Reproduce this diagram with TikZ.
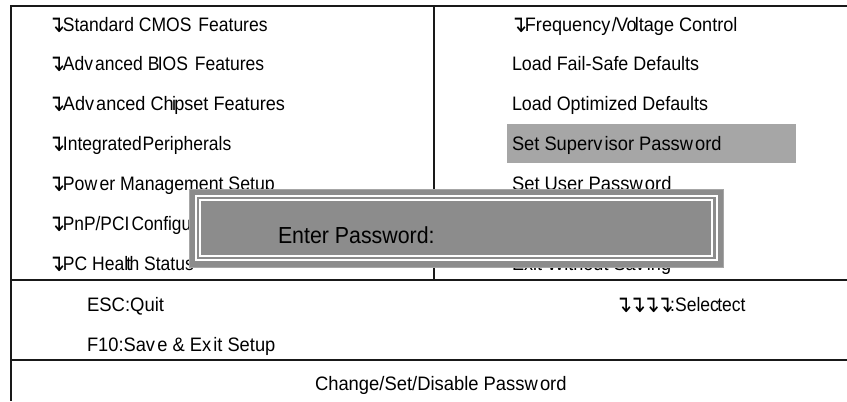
\documentclass[tikz,border=0pt]{standalone}
\usepackage{fontspec}
\setmainfont{Liberation Sans}
\newfontfamily\symf{DejaVu Sans}
\newcommand{\ar}{\makebox[8.2pt][l]{\raisebox{-0.9pt}{\symf\fontsize{17pt}{17pt}\selectfont\hspace{-3pt}\scalebox{0.9}[1.05]{↴}}}}
\newcommand{\gp}{\kern1.6pt}
\newcommand{\tg}{\kern-1.3pt}
\newcommand{\fs}[1]{\addfontfeature{FakeStretch=#1}}
\tikzset{
  x=0.75pt,y=-0.75pt,
  lbl/.style={anchor=base west,inner sep=0pt,outer sep=0pt,text=black,font=\fontsize{14.6pt}{16pt}\selectfont},
  rule/.style={line width=1.1pt,black!90},
}
\definecolor{barg}{HTML}{A6A6A6}
\definecolor{dlg}{HTML}{8C8C8C}
\begin{document}
\begin{tikzpicture}
\useasboundingbox (0,0) rectangle (847,401);
\fill[white] (0,0) rectangle (847,401);
% frame
\coordinate (tl) at (11,6); \coordinate (tr) at (847,6); \coordinate (bl) at (11,401);
\coordinate (d1) at (434,6); \coordinate (d2) at (434,280);
\coordinate (a1) at (11,280); \coordinate (a2) at (847,280);
\coordinate (b1) at (11,360); \coordinate (b2) at (847,360);
\draw[rule] (tr) -- (tl) -- (bl);
\draw[rule] (d1) -- (d2);
\draw[rule] (a1) -- (a2);
\draw[rule] (b1) -- (b2);
\fill[barg] (507,124) rectangle (796,163);
% left
\node[lbl] (l1) at (52,31) {\fs{0.90}\ar Standard CMOS\gp{} Features};
\node[lbl] (l2) at (52,70) {\fs{0.90}\ar Adv\gp anced B\tg IOS\gp{} Features};
\node[lbl] (l3) at (52,110) {\fs{0.93}\ar Adv\gp anced Ch\tg i\tg pset Features};
\node[lbl] (l4) at (52,150) {\fs{0.90}\ar Integrated\kern-3pt{} Peripherals};
\node[lbl] (l5) at (52,190) {\fs{0.91}\ar Pow\gp er Management Setup};
\node[lbl] (l6) at (52,230) {\fs{0.89}\ar PnP/PCI\kern-2pt{} Configurations};
\node[lbl] (l7) at (52,270) {\fs{0.90}\ar PC Heal\tg t\tg h Status};
% right
\node[lbl] (r1) at (514,31) {\fs{0.93}\ar Frequency\kern1pt/\kern-.5pt V\tg o\tg ltage Control};
\node[lbl] (r2) at (512,70) {\fs{0.92}Load Fail-Safe Defaults};
\node[lbl] (r3) at (512,110) {\fs{0.92}Load Optimized Defaults};
\node[lbl] (r4) at (512,150) {\fs{0.94}Set Superv\gp isor Passw\gp ord};
\node[lbl] (r5) at (512,190) {\fs{0.945}Set User Passw\gp ord};
\node[lbl] (r7) at (512,270) {\fs{0.93}Exit Without Sav\gp ing};
% bottom
\node[lbl] (e1) at (87,311) {\fs{0.95}ESC:Quit};
\node[lbl] (e2) at (87,351) {\fs{0.94}F10:Sav\gp e \& Ex\gp it Setup};
\node[lbl] (e3) at (619,311) {\fs{0.90}\ar\kern2.2pt\ar\kern2.2pt\ar\kern2.2pt\ar\kern-1pt:Selec\kern-1.2pt tect};
\node[lbl] (e4) at (315,390) {\fs{0.945}Change/Set/Disable Passw\gp ord};
% dialog
\fill[dlg] (189,189) rectangle (723,267);
\draw[barg,line width=0.75pt] (189,189) rectangle (723,267);
\draw[white,line width=1pt] (196,196) rectangle (717,260);
\draw[white,line width=1pt] (200,200) rectangle (712,256);
\node[lbl,font=\fontsize{17.4pt}{18pt}\selectfont] (pw) at (278,243) {\fs{0.92}Enter Password:};
\end{tikzpicture}
\end{document}
